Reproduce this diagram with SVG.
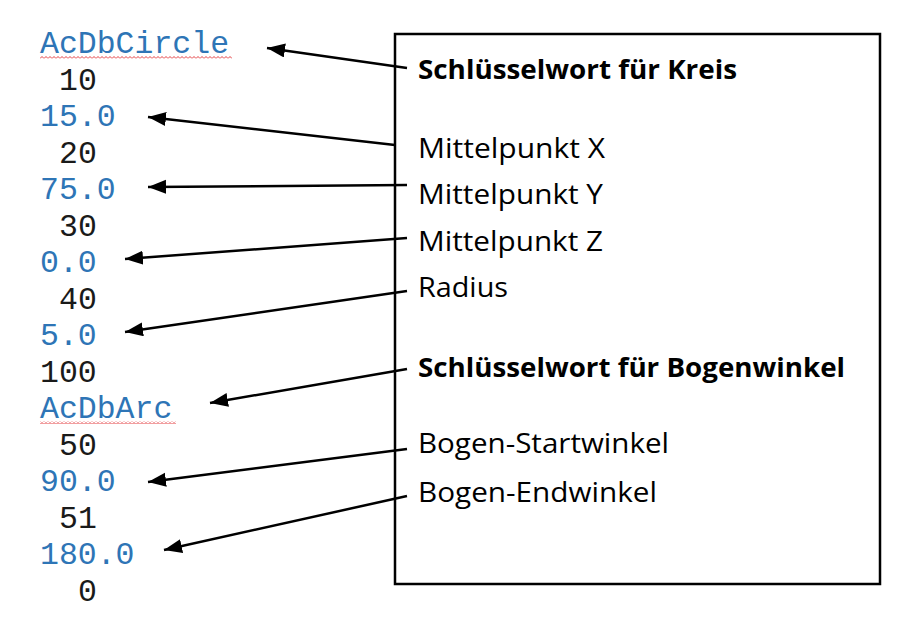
<svg xmlns="http://www.w3.org/2000/svg" width="923" height="636" viewBox="0 0 923 636">
<style>
.code{font-family:"Liberation Mono","Courier New",monospace;font-size:31.5px}
.k{fill:#1a1a1a}
.b{fill:#2E75B6}
.lab{font-family:"Open Sans","Noto Sans","Liberation Sans",sans-serif;font-size:27px;fill:#000}
.bold{font-weight:bold}
.arrow{stroke:#000;stroke-width:2.5;fill:none;marker-end:url(#ah)}
</style>
<defs>
<marker id="ah" markerUnits="userSpaceOnUse" markerWidth="20" markerHeight="16" refX="18" refY="7" orient="auto">
<path d="M0,0 L18,7 L0,14 Z" fill="#000"/>
</marker>
<pattern id="squig" patternUnits="userSpaceOnUse" x="40" y="56" width="4" height="3">
<path d="M0,2.5 L2,0.5 L4,2.5" fill="none" stroke="#e0282a" stroke-width="0.9"/>
</pattern>
</defs>
<rect width="923" height="636" fill="#fff"/>
<g id="code">
<text class="code b" x="40" y="53">AcDbCircle</text>
<rect x="40" y="56" width="192" height="3" fill="url(#squig)"/>
<text class="code k" x="59" y="89.5">10</text>
<text class="code b" x="40" y="126">15.0</text>
<text class="code k" x="59" y="162.5">20</text>
<text class="code b" x="40" y="199">75.0</text>
<text class="code k" x="59" y="235.5">30</text>
<text class="code b" x="40" y="272">0.0</text>
<text class="code k" x="59" y="308.5">40</text>
<text class="code b" x="40" y="345">5.0</text>
<text class="code k" x="40" y="381.5">100</text>
<text class="code b" x="40" y="418">AcDbArc</text>
<rect x="40" y="421" width="136" height="3" fill="url(#squig)"/>
<text class="code k" x="59" y="454.5">50</text>
<text class="code b" x="40" y="491">90.0</text>
<text class="code k" x="59" y="527.5">51</text>
<text class="code b" x="40" y="564">180.0</text>
<text class="code k" x="78" y="600.5">0</text>
</g>
<g id="box">
<rect x="395" y="34" width="485" height="550" fill="none" stroke="#000" stroke-width="2.5"/>
<text class="lab bold" x="418" y="79" textLength="319" lengthAdjust="spacingAndGlyphs">Schlüsselwort für Kreis</text>
<text class="lab" x="418" y="158" textLength="187" lengthAdjust="spacingAndGlyphs">Mittelpunkt X</text>
<text class="lab" x="418" y="204" textLength="185" lengthAdjust="spacingAndGlyphs">Mittelpunkt Y</text>
<text class="lab" x="418" y="251" textLength="185" lengthAdjust="spacingAndGlyphs">Mittelpunkt Z</text>
<text class="lab" x="418" y="297" textLength="90" lengthAdjust="spacingAndGlyphs">Radius</text>
<text class="lab bold" x="418" y="377" textLength="427" lengthAdjust="spacingAndGlyphs">Schlüsselwort für Bogenwinkel</text>
<text class="lab" x="418" y="453" textLength="251" lengthAdjust="spacingAndGlyphs">Bogen-Startwinkel</text>
<text class="lab" x="418" y="502" textLength="239" lengthAdjust="spacingAndGlyphs">Bogen-Endwinkel</text>
</g>
<g id="connectors">
<line class="arrow" x1="407" y1="68" x2="267" y2="48"/>
<line class="arrow" x1="395" y1="145" x2="148" y2="117"/>
<line class="arrow" x1="407" y1="185" x2="148" y2="187"/>
<line class="arrow" x1="407" y1="238" x2="125" y2="259"/>
<line class="arrow" x1="407" y1="291" x2="125" y2="332"/>
<line class="arrow" x1="407" y1="369" x2="210" y2="403"/>
<line class="arrow" x1="407" y1="449" x2="148" y2="482"/>
<line class="arrow" x1="407" y1="496" x2="164" y2="550"/>
</g>
</svg>
